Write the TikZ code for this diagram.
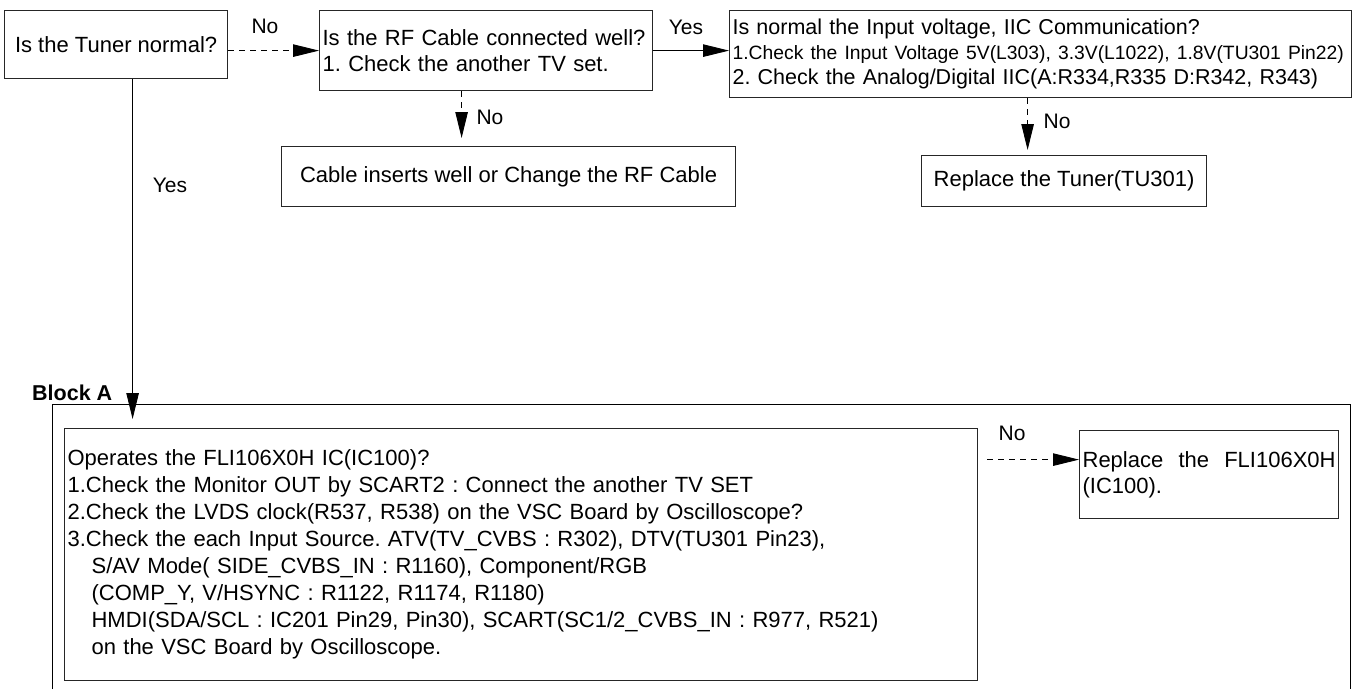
\documentclass[tikz,border=0pt]{standalone}
\usepackage{fontspec}
\setmainfont{Liberation Sans}
\usetikzlibrary{arrows.meta,calc}
\begin{document}
\frenchspacing
\begin{tikzpicture}[x=1pt,y=-1pt,
  box/.style={draw=black!85,line width=1.2pt,rectangle,inner ysep=0pt,inner xsep=3pt,anchor=north west,font=\fontsize{22}{26}\selectfont},
  lbl/.style={font=\fontsize{21}{24}\selectfont,inner sep=0pt},
  conn/.style={line width=0.9pt,-{Triangle[length=26pt,width=12.5pt]}},
  dsh/.style={conn,dash pattern=on 6pt off 5pt},
]
\useasboundingbox (0,0) rectangle (1356,689);

% top row
\node[box,minimum width=223pt,minimum height=68pt,align=center] (tuner) at (4,10) {Is the Tuner normal?};
\node[box,minimum width=333pt,minimum height=80pt,text width=327pt,align=left] (rf) at (319,10)
  {Is the RF Cable connected well?\\1. Check the another TV set.};
\node[box,minimum width=622pt,minimum height=87pt,text width=616pt,align=left,font=\fontsize{21.5}{25}\selectfont] (pwr) at (729,10)
  {Is normal the Input voltage, IIC Communication?\\\mbox{\fontsize{19.3}{25}\selectfont 1.Check the Input Voltage 5V(L303), 3.3V(L1022), 1.8V(TU301 Pin22)}\\2. Check the Analog/Digital IIC(A:R334,R335 D:R342, R343)};
\node[box,minimum width=454pt,minimum height=60pt,align=center] (cable) at (281,146) {Cable inserts well or Change the RF Cable};
\node[box,minimum width=285pt,minimum height=51pt,align=center] (rtun) at (921,155) {Replace the Tuner(TU301)};

% block A
\node[font=\bfseries\fontsize{21.5}{24}\selectfont,inner sep=0pt,anchor=west] (blk) at (32,393) {Block A};
\coordinate (oa) at (52,689);
\coordinate (ob) at (1350,404);
\coordinate (oc) at (1350,689);
\draw[line width=1pt] (oa) |- (ob) -- (oc);
\node[box,minimum width=913pt,minimum height=252pt,text width=907pt,align=left,font=\fontsize{22}{27}\selectfont] (fli) at (64,428)
  {Operates the FLI106X0H IC(IC100)?\\
   1.Check the Monitor OUT by SCART2 : Connect the another TV SET\\
   2.Check the LVDS clock(R537, R538) on the VSC Board by Oscilloscope?\\
   3.Check the each Input Source. ATV(TV\_CVBS : R302), DTV(TU301 Pin23),\\
   \hspace*{24pt}S/AV Mode( SIDE\_CVBS\_IN : R1160), Component/RGB\\
   \hspace*{24pt}(COMP\_Y, V/HSYNC : R1122, R1174, R1180)\\
   \hspace*{24pt}HMDI(SDA/SCL : IC201 Pin29, Pin30), SCART(SC1/2\_CVBS\_IN : R977, R521)\\
   \hspace*{24pt}on the VSC Board by Oscilloscope.};
\node[box,minimum width=259pt,minimum height=88pt,text width=253pt,align=left] (rfli) at (1079,430)
  {Replace\hfill the\hfill FLI106X0H\\(IC100).};

% connectors
\draw[dsh] (tuner.east |- rf.west) -- (rf.west);
\node[lbl] (no1) at (265,26) {No};
\draw[conn] (rf.east) -- (rf.east -| pwr.west);
\node[lbl] (yes1) at (686,27) {Yes};

\coordinate (d1) at ($(rf.south)+(-24.5,0)$);
\draw[dsh,shorten >=8pt] (d1) -- (d1 |- cable.north);
\node[lbl] (no2) at (490,117) {No};

\coordinate (d2) at ($(pwr.south)+(-13,0)$);
\draw[dsh,shorten >=5pt] (d2) -- (d2 |- rtun.north);
\node[lbl] (no3) at (1057,121) {No};

\coordinate (d3) at ($(tuner.south)+(16.5,0)$);
\draw[conn,shorten >=9pt] (d3) -- (d3 |- fli.north);
\node[lbl] (yes2) at (170,185) {Yes};

\coordinate (rin) at ($(rfli.west)+(0,-15)$);
\draw[dsh,shorten <=9pt] (rin -| fli.east) -- (rin);
\node[lbl] (no4) at (1012,433) {No};
\end{tikzpicture}
\end{document}
